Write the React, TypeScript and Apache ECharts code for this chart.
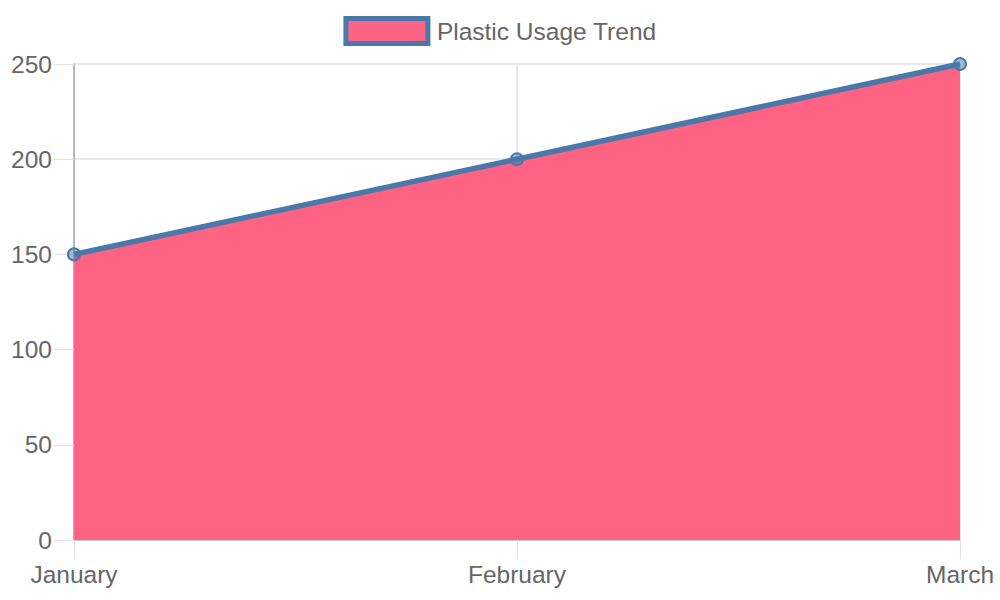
import { useEffect, useRef } from 'react';
import * as echarts from 'echarts';

const months = ['January', 'February', 'March'];
const plasticUsage = [150, 200, 250];
const seriesName = 'Plastic Usage Trend';

const FONT = "'Liberation Sans', Arial, sans-serif";
const TEXT = '#666666';
const PINK = '#ff6384';
const BLUE = '#4a78a8';
const GRID = '#e2e2e2';

export default function App() {
  const chartRef = useRef<HTMLDivElement>(null);

  useEffect(() => {
    if (!chartRef.current) return;
    const chart = echarts.init(chartRef.current, undefined, { renderer: 'svg' });

    const option: echarts.EChartsOption = {
      animation: false,
      textStyle: { fontFamily: FONT },
      legend: {
        data: [seriesName],
        top: 11,
        left: 'center',
        icon: 'rect',
        itemWidth: 82,
        itemHeight: 25,
        itemGap: 10,
        itemStyle: { color: PINK, borderColor: BLUE, borderWidth: 5 },
        textStyle: { fontSize: 24.5, color: TEXT, fontFamily: FONT, padding: [0, 0, 0, 4] },
      },
      grid: { left: 74, right: 40, top: 64, bottom: 60 },
      xAxis: {
        type: 'category',
        data: months,
        boundaryGap: false,
        axisLine: { show: true, lineStyle: { color: '#bdbdbd', width: 1.5 } },
        axisTick: { show: true, length: 19, lineStyle: { color: GRID } },
        splitLine: { show: true, lineStyle: { color: GRID, width: 1.5 } },
        axisLabel: { fontSize: 24.5, color: TEXT, fontFamily: FONT, margin: 22 },
      },
      yAxis: {
        type: 'value',
        min: 0,
        max: 250,
        interval: 50,
        axisLine: { show: true, lineStyle: { color: '#a6a6a6', width: 1.5 } },
        axisTick: { show: true, length: 20, lineStyle: { color: GRID } },
        splitLine: { show: true, lineStyle: { color: GRID, width: 1.5 } },
        axisLabel: { fontSize: 24.5, color: TEXT, fontFamily: FONT, margin: 22 },
      },
      series: [
        {
          name: seriesName,
          type: 'line',
          data: plasticUsage,
          symbol: 'circle',
          symbolSize: 12,
          lineStyle: { color: BLUE, width: 5.5 },
          itemStyle: { color: 'rgba(74,120,168,0.5)', borderColor: BLUE, borderWidth: 2 },
          areaStyle: { color: PINK, opacity: 1 },
        },
      ],
    };

    chart.setOption(option);
    return () => chart.dispose();
  }, []);

  return (
    <div
      ref={chartRef}
      style={{ position: 'absolute', left: 0, top: 0, width: 1000, height: 600, background: '#fff' }}
    />
  );
}
